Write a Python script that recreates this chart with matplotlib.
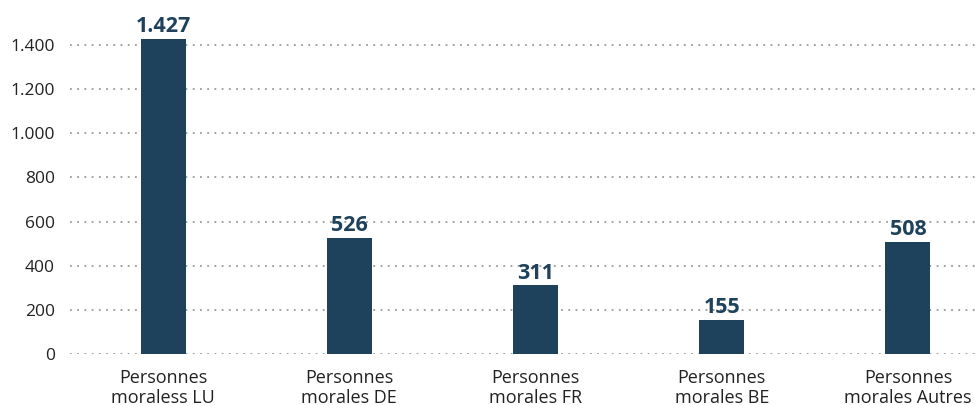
import matplotlib
matplotlib.use("Agg")
import matplotlib.pyplot as plt
import numpy as np

categories = ["Personnes\nmoraless LU", "Personnes\nmorales DE", "Personnes\nmorales FR",
              "Personnes\nmorales BE", "Personnes\nmorales Autres"]
values = [1427, 526, 311, 155, 508]
yticks = [0, 200, 400, 600, 800, 1000, 1200, 1400]

BAR = "#1e425c"


def fmt(v):
    return f"{v:,}".replace(",", ".")


plt.rcParams["font.family"] = ["Open Sans", "DejaVu Sans"]

fig = plt.figure(figsize=(9.75, 4.05), dpi=100)
ax = fig.add_axes([70 / 975, 51 / 405, 905 / 975, 331 / 405])

x = np.arange(len(categories))
ax.bar(x, values, width=0.242, color=BAR, zorder=3)
for xi, v in zip(x, values):
    ax.text(xi, v + 8, fmt(v), ha="center", va="bottom", fontsize=15.5,
            fontweight="bold", color=BAR, clip_on=False)

ax.set_xlim(-0.5, 4.36)
ax.set_ylim(0, 1500)
ax.set_yticks(yticks)
ax.set_yticklabels([fmt(t) for t in yticks], fontsize=12.5, color="#222222")
ax.set_xticks(x)
ax.set_xticklabels(categories, fontsize=13, color="#222222", linespacing=1.1)
ax.tick_params(axis="y", length=0, pad=11)
ax.tick_params(axis="x", length=0, pad=11)
ax.yaxis.grid(True, ls=(0, (1, 3)), color="#9a9a9a", lw=1.3, zorder=0)
for s in ax.spines.values():
    s.set_visible(False)

plt.savefig("out.png", dpi=100)
